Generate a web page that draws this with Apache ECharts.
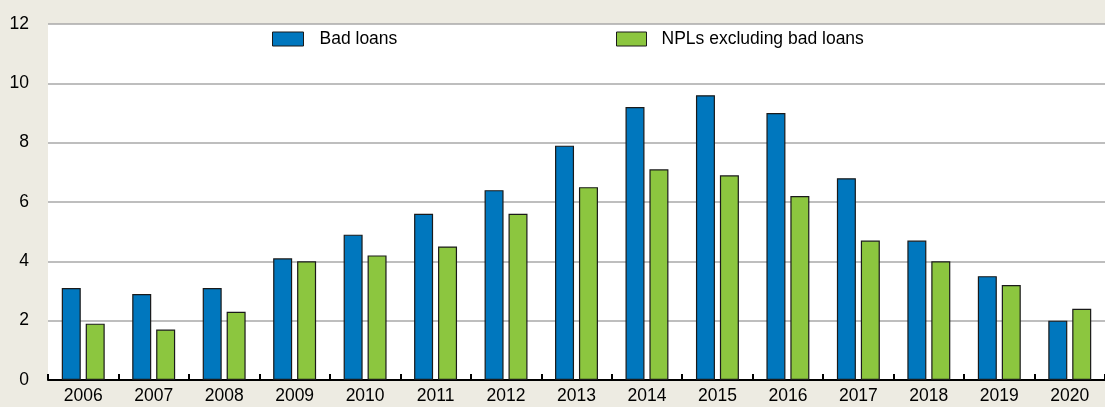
<!DOCTYPE html>
<html>
<head>
<meta charset="utf-8">
<script src="https://cdn.jsdelivr.net/npm/echarts@6/dist/echarts.min.js"></script>
<style>
	html, body { margin: 0; padding: 0; background: #edebe2; }
	#chart { width: 1105px; height: 407px; }
</style>
</head>
<body>
<div id="chart"></div>
<script type="text/javascript">
	// data
	var years = ['2006', '2007', '2008', '2009', '2010', '2011', '2012', '2013', '2014', '2015', '2016', '2017', '2018', '2019', '2020'];
	var badLoans = [3.1, 2.9, 3.1, 4.1, 4.9, 5.6, 6.4, 7.9, 9.2, 9.6, 9.0, 6.8, 4.7, 3.5, 2.0];
	var nplsExBad = [1.9, 1.7, 2.3, 4.0, 4.2, 4.5, 5.6, 6.5, 7.1, 6.9, 6.2, 4.7, 4.0, 3.2, 2.4];

	var font = "'Liberation Sans', Arial, sans-serif";

	var chart = echarts.init(document.getElementById('chart'));
	var option = {
		backgroundColor: '#edebe2',
		animation: false,
		legend: [{
			left: 272,
			top: 30,
			padding: 0,
			icon: 'rect',
			itemWidth: 31,
			itemHeight: 14,
			data: ['Bad loans'],
			itemStyle: { borderColor: '#1a1a1a', borderWidth: 1 },
			textStyle: { fontFamily: font, fontSize: 17.5, color: '#000', padding: [0, 0, 0, 11] }
		}, {
			left: 616,
			top: 30,
			padding: 0,
			icon: 'rect',
			itemWidth: 30,
			itemHeight: 14,
			data: ['NPLs excluding bad loans'],
			itemStyle: { borderColor: '#1a1a1a', borderWidth: 1 },
			textStyle: { fontFamily: font, fontSize: 17.5, color: '#000', padding: [0, 0, 0, 10] }
		}],
		grid: {
			left: 48,
			top: 24,
			width: 1067,
			height: 356,
			show: true,
			backgroundColor: '#fff',
			borderWidth: 0
		},
		xAxis: {
			type: 'category',
			data: years,
			axisLine: { lineStyle: { color: '#000', width: 2 } },
			axisTick: { show: true, inside: true, length: 6, lineStyle: { color: '#000', width: 2 } },
			axisLabel: { fontFamily: font, fontSize: 17.5, color: '#000', margin: 7 }
		},
		yAxis: {
			type: 'value',
			min: 0,
			max: 12,
			interval: 2,
			axisLine: { show: false },
			axisTick: { show: false },
			axisLabel: { fontFamily: font, fontSize: 17.5, color: '#000', margin: 19 },
			splitLine: { lineStyle: { color: '#a8a8a8', width: 1.5 } }
		},
		series: [{
			name: 'Bad loans',
			type: 'bar',
			data: badLoans,
			barWidth: 19,
			barGap: '26%',
			itemStyle: { color: '#0077be', borderColor: '#1a1a1a', borderWidth: 1.2 }
		}, {
			name: 'NPLs excluding bad loans',
			type: 'bar',
			data: nplsExBad,
			barWidth: 19,
			itemStyle: { color: '#8cc63f', borderColor: '#1a1a1a', borderWidth: 1.2 }
		}]
	};
	chart.setOption(option);
</script>
</body>
</html>
